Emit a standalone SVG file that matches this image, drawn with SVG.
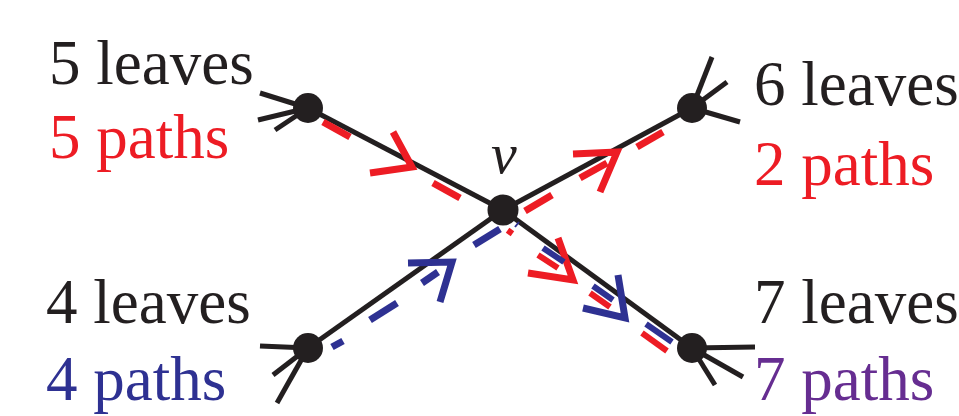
<svg xmlns="http://www.w3.org/2000/svg" width="959" height="416" viewBox="0 0 959 416">
<style>
.edge{stroke:#231f20;stroke-width:5;stroke-linecap:butt;fill:none}
.node{fill:#231f20}
.r{stroke:#ed1c24;stroke-width:7;fill:none;stroke-linecap:butt}
.b{stroke:#2e3192;stroke-width:7;fill:none;stroke-linecap:butt}
.r2{stroke:#ed1c24;stroke-width:6;fill:none}
.b2{stroke:#2e3192;stroke-width:6;fill:none}
.lbl{font-family:"Liberation Serif","Times New Roman",serif;font-size:63px}
</style>
<rect width="959" height="416" fill="#fff"/>
<g id="connectors">
  <g id="edges">
    <line class="edge" x1="308" y1="108" x2="503" y2="210"/>
    <line class="edge" x1="503" y1="210" x2="692" y2="108"/>
    <line class="edge" x1="308" y1="348" x2="503" y2="210"/>
    <line class="edge" x1="503" y1="210" x2="692" y2="348"/>
    <line class="edge" x1="260" y1="93" x2="308" y2="108"/>
    <line class="edge" x1="258" y1="120" x2="308" y2="108"/>
    <line class="edge" x1="275" y1="130" x2="308" y2="108"/>
    <line class="edge" x1="712" y1="57" x2="692" y2="108"/>
    <line class="edge" x1="727" y1="82" x2="692" y2="108"/>
    <line class="edge" x1="740" y1="122" x2="692" y2="108"/>
    <line class="edge" x1="260" y1="346" x2="308" y2="348"/>
    <line class="edge" x1="273" y1="375" x2="308" y2="348"/>
    <line class="edge" x1="277" y1="403" x2="308" y2="348"/>
    <line class="edge" x1="755" y1="347" x2="692" y2="348"/>
    <line class="edge" x1="743" y1="377" x2="692" y2="348"/>
    <line class="edge" x1="715" y1="385" x2="692" y2="348"/>
  </g>
  <g id="red-path">
    <line class="r" x1="323" y1="122" x2="350" y2="137"/>
    <polyline class="r" points="393,132 412,167 370,173"/>
    <line class="r" x1="433" y1="183" x2="460" y2="198"/>
    <line class="r" x1="525" y1="211" x2="552" y2="195"/>
    <line class="r" x1="580" y1="178" x2="607" y2="163"/>
    <polyline class="r" points="573,154 617,152 600,192"/>
    <line class="r" x1="637" y1="147" x2="663" y2="132"/>
    <rect x="507" y="229" width="6" height="6" fill="#ed1c24" transform="rotate(36 510 232)"/>
    <line class="r2" x1="538" y1="255" x2="558" y2="268"/>
    <polyline class="r" points="558,238 573,280 528,273"/>
    <line class="r2" x1="590" y1="293" x2="610" y2="307"/>
    <line class="r2" x1="642" y1="333" x2="667" y2="351"/>
  </g>
  <g id="blue-path">
    <line class="b" x1="332" y1="347" x2="343" y2="341"/>
    <line class="b" x1="370" y1="320" x2="397" y2="303"/>
    <line class="b" x1="422" y1="283" x2="438" y2="272"/>
    <polyline class="b" points="408,263 452,262 440,302"/>
    <line class="b" x1="474" y1="245" x2="500" y2="229"/>
    <line stroke="#2e3192" stroke-width="2" x1="515" y1="227" x2="519" y2="222"/>
    <line class="b2" x1="543" y1="248" x2="564" y2="262"/>
    <line class="b2" x1="593" y1="286" x2="613" y2="300"/>
    <polyline class="b" points="618,275 625,318 583,308"/>
    <line class="b2" x1="646" y1="324" x2="672" y2="342"/>
  </g>
</g>
<g id="node-tl"><circle class="node" cx="308" cy="108" r="15"/></g>
<g id="node-v"><circle class="node" cx="503" cy="210" r="15.5"/>
  <text x="491" y="173" font-family="Liberation Serif,'Times New Roman',serif" font-style="italic" font-size="58" fill="#231f20">v</text></g>
<g id="node-tr"><circle class="node" cx="692" cy="108" r="15"/></g>
<g id="node-bl"><circle class="node" cx="308" cy="348" r="15"/></g>
<g id="node-br"><circle class="node" cx="692" cy="348" r="15"/></g>
<g id="labels">
  <text class="lbl" x="49" y="84" fill="#231f20">5 leaves</text>
  <text class="lbl" x="49" y="158" fill="#ed1c24">5 paths</text>
  <text class="lbl" x="754" y="105" fill="#231f20">6 leaves</text>
  <text class="lbl" x="754" y="185" fill="#ed1c24">2 paths</text>
  <text class="lbl" x="46" y="323" fill="#231f20">4 leaves</text>
  <text class="lbl" x="46" y="400" fill="#2e3192">4 paths</text>
  <text class="lbl" x="754" y="323" fill="#231f20">7 leaves</text>
  <text class="lbl" x="754" y="400" fill="#662d91">7 paths</text>
</g>
</svg>
